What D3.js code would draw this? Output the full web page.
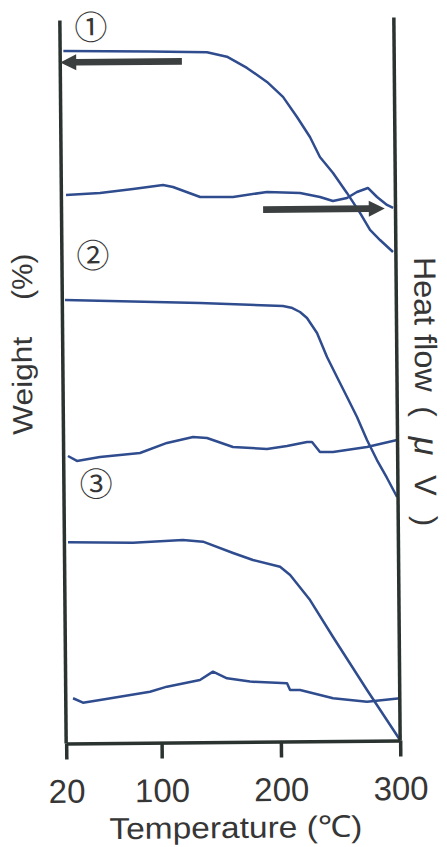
<!DOCTYPE html>
<html>
<head>
<meta charset="utf-8">
<script src="https://cdn.jsdelivr.net/npm/d3@7"></script>
<style>
  html, body { margin: 0; padding: 0; background: #fff; }
  svg { display: block; }
</style>
</head>
<body>
<script>
// Temperature ticks on the shared x axis (°C)
const tickTemps = [20, 100, 200, 300];

// Stacked TG / DTA traces, [temperature °C, offset signal level]
const weight1 = [[22.7,95.78],[95.4,95.60],[143.1,95.42],[159.8,94.79],[176.5,93.21],[193.2,91.25],[206.5,89.16],[218.1,86.36],[228.8,83.58],[237.0,80.80],[247.9,78.58],[259.4,75.80],[270.2,73.02],[278.5,70.65],[286.8,69.25],[297.6,67.58]];
const heat1 = [[23.9,75.86],[52.4,76.10],[80.1,76.61],[105.3,77.12],[113.6,76.83],[136.3,75.42],[163.9,75.38],[192.4,76.03],[220.1,75.85],[236.8,75.27],[247.6,74.70],[259.4,75.10],[267.8,75.92],[277.0,76.46],[284.6,75.20],[292.9,74.09],[298.0,73.67]];
const weight2 = [[22.3,61.34],[135.4,60.76],[204.9,60.25],[212.0,60.0],[219.2,59.39],[225.0,58.56],[233.3,56.47],[241.5,53.14],[249.7,50.36],[258.0,47.58],[266.2,44.80],[274.4,41.61],[282.6,38.82],[290.9,36.33],[299.2,33.69]];
const heat2 = [[23.6,39.75],[31.1,39.06],[50.4,39.57],[84.0,40.08],[106.7,41.44],[128.6,42.23],[140.3,42.07],[162.0,40.80],[190.5,40.48],[207.3,40.87],[224.1,41.41],[228.3,41.40],[234.9,40.00],[245.8,39.99],[274.3,40.64],[299.6,41.58]];
const weight3 = [[23.0,27.81],[77.5,27.69],[119.4,27.99],[136.2,27.74],[161.3,26.14],[177.9,25.15],[200.6,24.19],[209.0,23.03],[225.5,19.54],[244.5,14.40],[272.6,7.03],[299.9,0.07]];
const heat3 = [[26.1,6.24],[34.4,5.62],[48.7,5.98],[90.7,7.05],[104.9,7.73],[132.6,8.62],[143.6,9.75],[155.3,8.82],[174.6,8.33],[205.6,8.05],[208.1,7.12],[216.5,7.11],[244.1,5.92],[272.5,5.41],[300.2,5.84]];

// Sample markers
const sampleLabels = ["①", "②", "③"];
const sampleLabelTemps = [46, 46, 47];
const sampleLabelLevels = [99.3, 67.7, 36.1];

// Arrows showing which axis each trace belongs to: [from °C, to °C, level]
const arrowFrom = [122, 189];
const arrowTo = [20, 291];
const arrowLevel = [94.2, 73.6];

const W = 447, H = 847;
const axisColor = "#2a3330";
const traceColor = "#2f4c8e";
const arrowColor = "#3b3f3f";
const textColor = "#363636";
const latin = "Arial, 'Liberation Sans', sans-serif";
const cjk = "'Noto Sans CJK JP', 'Noto Sans', sans-serif";

const svg = d3.select("body").append("svg")
  .attr("width", W).attr("height", H);

const x = d3.scaleLinear().domain([20, 300]).range([63, 397]);
const y = d3.scaleLinear().domain([0, 100]).range([742, 19]);

// Whole plot sits very slightly tilted
const g = svg.append("g").attr("transform", "rotate(-0.5, 230, 380)");

// Traces
const line = d3.line().x(d => x(d[0])).y(d => y(d[1]));
[weight1, heat1, weight2, heat2, weight3, heat3].forEach(series => {
  g.append("path")
    .datum(series)
    .attr("d", line)
    .attr("fill", "none")
    .attr("stroke", traceColor)
    .attr("stroke-width", 2.5)
    .attr("stroke-linejoin", "round");
});

// Side axes
[20, 300].forEach(t => {
  g.append("line")
    .attr("x1", x(t)).attr("x2", x(t))
    .attr("y1", y(100)).attr("y2", y(0))
    .attr("stroke", axisColor).attr("stroke-width", 3.5);
});

// Bottom axis
const xAxis = d3.axisBottom(x)
  .tickValues(tickTemps)
  .tickFormat(d3.format("d"))
  .tickSize(16)
  .tickSizeOuter(0)
  .tickPadding(20);
const ax = g.append("g").attr("transform", `translate(0,${y(0)})`).call(xAxis);
ax.select(".domain").attr("stroke", axisColor).attr("stroke-width", 3.5);
ax.selectAll(".tick line").attr("stroke", axisColor).attr("stroke-width", 3.5);
ax.selectAll(".tick text")
  .attr("fill", textColor)
  .attr("font-family", latin)
  .attr("font-size", 33);

// Arrows
arrowFrom.forEach((from, i) => {
  const x0 = x(from), x1 = x(arrowTo[i]), yy = y(arrowLevel[i]);
  const dir = Math.sign(x1 - x0);
  const head = 16, half = 8, shaft = 3.3;
  const xb = x1 - dir * head;
  g.append("path")
    .attr("d", `M${x0},${yy - shaft}L${xb},${yy - shaft}L${xb},${yy - half}L${x1},${yy}L${xb},${yy + half}L${xb},${yy + shaft}L${x0},${yy + shaft}Z`)
    .attr("fill", arrowColor);
});

// Sample numbers
sampleLabels.forEach((s, i) => {
  g.append("text")
    .attr("x", x(sampleLabelTemps[i]))
    .attr("y", y(sampleLabelLevels[i]))
    .attr("text-anchor", "middle")
    .attr("dominant-baseline", "central")
    .attr("font-family", cjk)
    .attr("font-size", 33)
    .attr("fill", textColor)
    .text(s);
});

// Axis titles
g.append("text")
  .attr("x", 232).attr("y", 838)
  .attr("text-anchor", "middle")
  .attr("font-family", latin)
  .attr("font-size", 30)
  .attr("fill", textColor)
  .attr("textLength", 253)
  .attr("lengthAdjust", "spacingAndGlyphs")
  .text("Temperature (℃)");

g.append("text")
  .attr("transform", "translate(32,384) rotate(-90)")
  .attr("text-anchor", "middle")
  .attr("font-family", latin)
  .attr("font-size", 28)
  .attr("fill", textColor)
  .attr("textLength", 98)
  .attr("lengthAdjust", "spacingAndGlyphs")
  .text("Weight");
g.append("text")
  .attr("transform", "translate(33,275) rotate(-90)")
  .attr("text-anchor", "middle")
  .attr("font-family", latin)
  .attr("font-size", 29)
  .attr("fill", textColor)
  .attr("textLength", 46)
  .attr("lengthAdjust", "spacingAndGlyphs")
  .text("(%)");

g.append("text")
  .attr("transform", "translate(415,326) rotate(90)")
  .attr("text-anchor", "middle")
  .attr("font-family", latin)
  .attr("font-size", 31)
  .attr("fill", textColor)
  .attr("textLength", 135)
  .attr("lengthAdjust", "spacingAndGlyphs")
  .text("Heat flow");
const unit = g.append("text")
  .attr("transform", "translate(414,408) rotate(90)")
  .attr("font-family", latin)
  .attr("font-size", 31)
  .attr("letter-spacing", 20)
  .attr("fill", textColor);
unit.append("tspan").text("(");
unit.append("tspan").attr("font-size", 34).attr("font-style", "italic").text("μ");
unit.append("tspan").text("V)");
</script>
</body>
</html>
